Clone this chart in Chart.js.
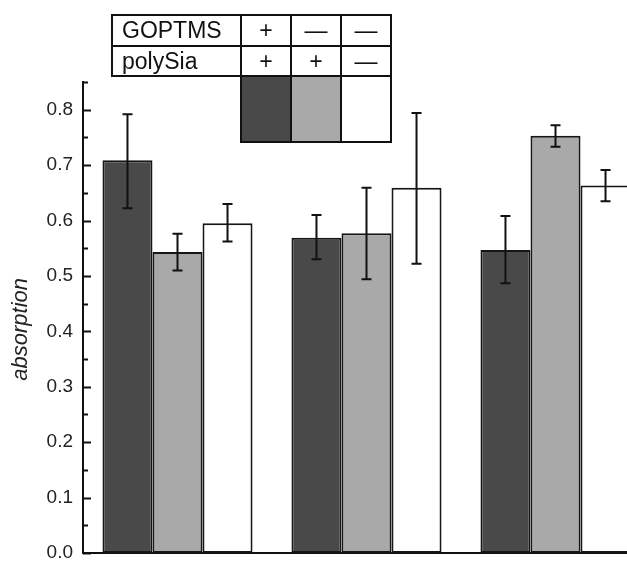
<!DOCTYPE html>
<html>
<head>
<meta charset="utf-8">
<script src="https://cdn.jsdelivr.net/npm/chart.js@4.4.1/dist/chart.umd.min.js"></script>
<style>
  html, body { margin: 0; padding: 0; background: #fff; overflow: hidden; }
  #wrap { position: relative; width: 627px; height: 561px; overflow: hidden; }
  #grafico { position: absolute; left: 0; top: 0; }
  #leyenda {
    position: absolute; left: 111px; top: 14px;
    border-collapse: collapse; table-layout: fixed;
    font-family: "Liberation Sans", Arial, sans-serif; font-size: 23px; color: #111;
  }
  #leyenda td { border: 2px solid #111; padding: 0; text-align: center; }
  #leyenda td.nombre { text-align: left; padding-left: 9px; }
  #leyenda tr.fila1 td { height: 29px; }
  #leyenda tr.fila2 td { height: 28px; }
  #leyenda tr.muestras td { height: 64px; }
  #leyenda td.vacio { border: none; }
</style>
</head>
<body>
<div id="wrap">
  <canvas id="grafico" width="660" height="575"></canvas>
  <table id="leyenda">
    <colgroup><col style="width:129px"><col style="width:50px"><col style="width:50px"><col style="width:50px"></colgroup>
  </table>
</div>
<script>
// Datos
const categorias = ['1', '2', '3'];
const series = ['GOPTMS + / polySia +', 'GOPTMS − / polySia +', 'GOPTMS − / polySia −'];
const filaGoptms = ['+', '—', '—'];
const filaPolySia = ['+', '+', '—'];
const colores = ['#494949', '#a9a9a9', '#ffffff'];

const valoresOscuro = [0.709, 0.569, 0.547];
const valoresGris = [0.543, 0.577, 0.753];
const valoresBlanco = [0.595, 0.659, 0.663];

const errSupOscuro = [0.792, 0.610, 0.608];
const errInfOscuro = [0.622, 0.530, 0.487];
const errSupGris = [0.576, 0.659, 0.772];
const errInfGris = [0.510, 0.494, 0.733];
const errSupBlanco = [0.630, 0.794, 0.691];
const errInfBlanco = [0.562, 0.522, 0.635];

const marcasY = [0, 0.1, 0.2, 0.3, 0.4, 0.5, 0.6, 0.7, 0.8];
const etiquetasY = ['0.0', '0.1', '0.2', '0.3', '0.4', '0.5', '0.6', '0.7', '0.8'];
const marcasMenores = [0.05, 0.15, 0.25, 0.35, 0.45, 0.55, 0.65, 0.75, 0.85];
const tituloY = 'absorption';

// Tabla-leyenda
(function construirLeyenda() {
  const tabla = document.getElementById('leyenda');
  let html = '<tr class="fila1"><td class="nombre">GOPTMS</td>';
  filaGoptms.forEach(s => { html += '<td>' + s + '</td>'; });
  html += '</tr><tr class="fila2"><td class="nombre">polySia</td>';
  filaPolySia.forEach(s => { html += '<td>' + s + '</td>'; });
  html += '</tr><tr class="muestras"><td class="vacio"></td>';
  colores.forEach(c => { html += '<td style="background:' + c + '"></td>'; });
  html += '</tr>';
  tabla.insertAdjacentHTML('beforeend', html);
})();

// Barras de error, marcas hacia dentro del eje y título del eje Y
const pluginExtras = {
  id: 'extras',
  afterDatasetsDraw(chart) {
    const ctx = chart.ctx;
    const y = chart.scales.y;
    ctx.save();
    ctx.strokeStyle = '#111';
    ctx.lineWidth = 2;
    chart.data.datasets.forEach((ds, i) => {
      const meta = chart.getDatasetMeta(i);
      meta.data.forEach((bar, j) => {
        const yA = y.getPixelForValue(ds.errSup[j]);
        const yB = y.getPixelForValue(ds.errInf[j]);
        ctx.beginPath();
        ctx.moveTo(bar.x, yA); ctx.lineTo(bar.x, yB);
        ctx.moveTo(bar.x - 5, yA); ctx.lineTo(bar.x + 5, yA);
        ctx.moveTo(bar.x - 5, yB); ctx.lineTo(bar.x + 5, yB);
        ctx.stroke();
      });
    });
    const x0 = chart.chartArea.left;
    ctx.beginPath();
    marcasY.forEach(v => {
      const p = Math.round(y.getPixelForValue(v)) + 0.5;
      ctx.moveTo(x0, p); ctx.lineTo(x0 + 8, p);
    });
    marcasMenores.forEach(v => {
      const p = Math.round(y.getPixelForValue(v)) + 0.5;
      ctx.moveTo(x0, p); ctx.lineTo(x0 + 5, p);
    });
    ctx.stroke();

    // título del eje, algo por debajo del centro como en la figura
    ctx.translate(21, y.getPixelForValue(0.4) - 2);
    ctx.rotate(-Math.PI / 2);
    ctx.fillStyle = '#222';
    ctx.font = 'italic 22px "Liberation Sans", Arial, sans-serif';
    ctx.textAlign = 'center';
    ctx.textBaseline = 'middle';
    ctx.fillText(tituloY, 0, 0);
    ctx.restore();
  }
};

const ctx = document.getElementById('grafico').getContext('2d');
const grafico = new Chart(ctx, {
  type: 'bar',
  data: {
    labels: categorias,
    datasets: [
      { label: series[0], data: valoresOscuro, errSup: errSupOscuro, errInf: errInfOscuro, backgroundColor: colores[0] },
      { label: series[1], data: valoresGris, errSup: errSupGris, errInf: errInfGris, backgroundColor: colores[1] },
      { label: series[2], data: valoresBlanco, errSup: errSupBlanco, errInf: errInfBlanco, backgroundColor: colores[2] }
    ].map(d => Object.assign(d, { borderColor: '#161616', borderWidth: 2, borderSkipped: false, categoryPercentage: 0.794, barPercentage: 1.0 }))
  },
  options: {
    responsive: false,
    animation: false,
    layout: { padding: { left: 0, top: 82, right: 10, bottom: 22 } },
    plugins: { legend: { display: false }, tooltip: { enabled: false } },
    scales: {
      x: {
        grid: { display: false, drawTicks: false },
        border: { display: true, color: '#111', width: 2 },
        ticks: { display: false },
        afterFit: s => { s.height = 0; }
      },
      y: {
        min: 0,
        max: 0.85,
        grid: { display: false, drawTicks: false },
        border: { display: true, color: '#111', width: 2 },
        afterBuildTicks: s => { s.ticks = marcasY.map(v => ({ value: v })); },
        afterFit: s => { s.width = 83; },
        ticks: {
          padding: 10,
          color: '#222',
          font: { family: 'Liberation Sans, Arial, sans-serif', size: 19 },
          callback: (v) => etiquetasY[marcasY.indexOf(v)]
        }
      }
    }
  },
  plugins: [pluginExtras]
});
</script>
</body>
</html>
